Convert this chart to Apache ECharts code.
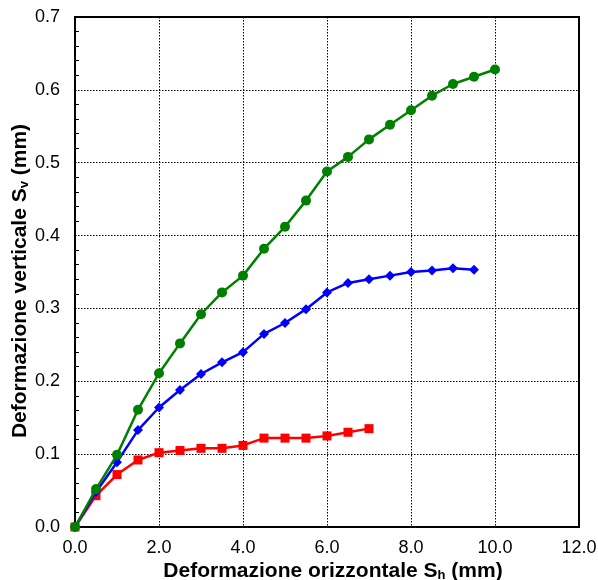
<!DOCTYPE html>
<html>
<head>
<meta charset="utf-8">
<script src="https://cdn.jsdelivr.net/npm/echarts@6/dist/echarts.min.js"></script>
<style>html,body{margin:0;padding:0;background:#fff;}#c{width:598px;height:580px;}</style>
</head>
<body>
<div id="c"></div>
<script>
var xGreen = [0,0.5,1,1.5,2,2.5,3,3.5,4,4.5,5,5.5,6,6.5,7,7.5,8,8.5,9,9.5,10];
var yGreen = [0,0.052,0.099,0.161,0.211,0.252,0.292,0.322,0.345,0.382,0.412,0.448,0.488,0.508,0.532,0.552,0.572,0.592,0.608,0.618,0.628];
var xBlue = [0,0.5,1,1.5,2,2.5,3,3.5,4,4.5,5,5.5,6,6.5,7,7.5,8,8.5,9,9.5];
var yBlue = [0,0.048,0.089,0.133,0.164,0.188,0.210,0.226,0.240,0.265,0.280,0.299,0.322,0.335,0.340,0.345,0.350,0.352,0.355,0.353];
var xRed = [0,0.5,1,1.5,2,2.5,3,3.5,4,4.5,5,5.5,6,6.5,7];
var yRed = [0,0.043,0.072,0.092,0.102,0.105,0.108,0.108,0.112,0.122,0.122,0.122,0.125,0.130,0.135];

function pairs(xs, ys){ return xs.map(function(x,i){return [x, ys[i]];}); }

var chart = echarts.init(document.getElementById('c'));
var font = 'Liberation Sans, Arial, sans-serif';
chart.setOption({
  animation: false,
  grid: {left: 75, top: 17, right: 19, bottom: 53, containLabel: false, outerBoundsMode: 'none', show: true, borderColor: '#000', borderWidth: 2, backgroundColor: 'transparent'},
  xAxis: {
    type: 'value', min: 0, max: 12, interval: 2,
    axisLine: {show: true, onZero: false, lineStyle: {color: '#000', width: 2}},
    axisTick: {show: false},
    axisLabel: {color: '#000', fontSize: 18, fontFamily: font, margin: 12, formatter: function(v){return v.toFixed(1);}},
    splitLine: {show: true, lineStyle: {color: '#000', type: [1.5,1.5], width: 1}},
    name: '{b|Deformazione orizzontale S}{s|h}{b| (mm)}',
    nameLocation: 'middle', nameGap: 33, nameMoveOverlap: false,
    nameTextStyle: {padding: [0,0,0,12], rich: {
      b: {fontFamily: font, fontWeight: 'bold', fontSize: 21, color: '#000'},
      s: {fontFamily: font, fontWeight: 'bold', fontSize: 13, color: '#000', verticalAlign: 'bottom', padding: [9,0,0,0]}
    }}
  },
  yAxis: {
    type: 'value', min: 0, max: 0.7, interval: 0.1,
    axisLine: {show: true, onZero: false, lineStyle: {color: '#000', width: 2}},
    axisTick: {show: false, inside: true},
    minorTick: {show: true, splitNumber: 5, length: 4, lineStyle: {color: '#000', width: 1}},
    axisLabel: {color: '#000', fontSize: 18, fontFamily: font, margin: 15, formatter: function(v){return v.toFixed(1);}},
    splitLine: {show: true, lineStyle: {color: '#000', type: [1.5,1.5], width: 1}},
    name: '{b|Deformazione verticale S}{s|v}{b| (mm)}',
    nameLocation: 'middle', nameGap: 44, nameMoveOverlap: false,
    nameTextStyle: {padding: [0,18,0,0], rich: {
      b: {fontFamily: font, fontWeight: 'bold', fontSize: 21, color: '#000'},
      s: {fontFamily: font, fontWeight: 'bold', fontSize: 13, color: '#000', verticalAlign: 'bottom', padding: [9,0,0,0]}
    }}
  },
  series: [
    {type: 'line', data: pairs(xRed, yRed), symbol: 'rect', symbolSize: 9, itemStyle: {color: '#FF0000'}, lineStyle: {color: '#FF0000', width: 2.5}, z: 3},
    {type: 'line', data: pairs(xBlue, yBlue), symbol: 'diamond', symbolSize: 10, itemStyle: {color: '#0000FF'}, lineStyle: {color: '#0000FF', width: 2.5}, z: 4},
    {type: 'line', data: pairs(xGreen, yGreen), symbol: 'circle', symbolSize: 10, itemStyle: {color: '#008000'}, lineStyle: {color: '#008000', width: 2.5}, z: 5}
  ]
});
</script>
</body>
</html>
